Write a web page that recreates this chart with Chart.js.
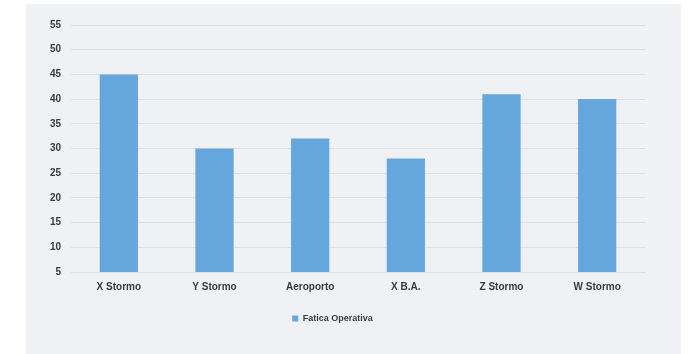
<!DOCTYPE html>
<html lang="it">
<head>
    <meta charset="UTF-8">
    <title>Fatica Operativa</title>
    <script src="https://cdn.jsdelivr.net/npm/chart.js@4.4.0/dist/chart.umd.min.js"></script>
    <style>
        body { margin: 0; background: #ffffff; }
        #panel {
            position: absolute; left: 26px; top: 4px; width: 655px; height: 350px;
            background: #eff1f4;
        }
        #chart { position: absolute; left: 0; top: 0; }
    </style>
</head>
<body>
    <div id="panel"></div>
    <canvas id="chart" width="689" height="354"></canvas>
    <script>
        // data
        const categories = ['X Stormo', 'Y Stormo', 'Aeroporto', 'X B.A.', 'Z Stormo', 'W Stormo'];
        const faticaOperativa = [45, 30, 32, 28, 41, 40];
        const yTicks = [5, 10, 15, 20, 25, 30, 35, 40, 45, 50, 55];

        const textColor = '#3a3a3a';
        const gridColor = '#dcdfe3';

        const ctx = document.getElementById('chart').getContext('2d');
        new Chart(ctx, {
            type: 'bar',
            data: {
                labels: categories,
                datasets: [{
                    label: 'Fatica Operativa',
                    data: faticaOperativa,
                    backgroundColor: '#65a7dd',
                    borderWidth: 0,
                    barPercentage: 0.8,
                    categoryPercentage: 0.5
                }]
            },
            options: {
                responsive: false,
                animation: false,
                layout: { padding: { left: 20, right: 44, top: 25, bottom: 21 } },
                plugins: {
                    tooltip: { enabled: false },
                    legend: {
                        position: 'bottom',
                        labels: {
                            boxWidth: 6,
                            boxHeight: 6,
                            padding: 10,
                            color: textColor,
                            font: { family: 'Liberation Sans', size: 9, weight: 'bold' }
                        }
                    }
                },
                scales: {
                    x: {
                        grid: { display: false },
                        border: { color: gridColor },
                        ticks: {
                            padding: 1,
                            color: textColor,
                            font: { family: 'Liberation Sans', size: 10, weight: 'bold' }
                        },
                        afterFit: scale => { scale.height = 32; }
                    },
                    y: {
                        min: yTicks[0],
                        max: yTicks[yTicks.length - 1],
                        afterBuildTicks: scale => { scale.ticks = yTicks.map(v => ({ value: v })); },
                        grid: { color: gridColor, drawTicks: false },
                        border: { display: false },
                        ticks: {
                            padding: 10,
                            color: textColor,
                            font: { family: 'Liberation Sans', size: 10, weight: 'bold' }
                        },
                        afterFit: scale => { scale.width = 51; }
                    }
                }
            }
        });
    </script>
</body>
</html>
